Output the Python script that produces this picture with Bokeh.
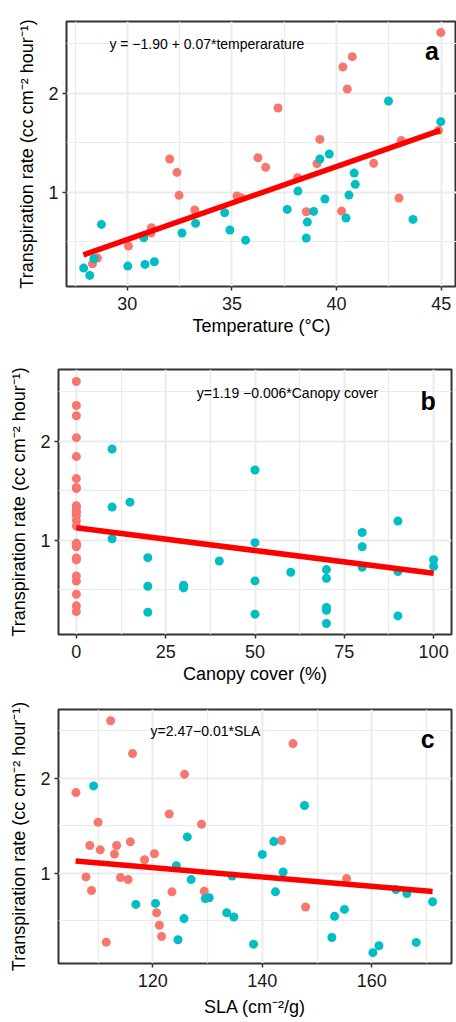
from bokeh.plotting import figure
from bokeh.layouts import column
from bokeh.models import Range1d, FixedTicker, Label
from bokeh.embed import file_html
from bokeh.resources import INLINE

SALMON = "#F8766D"
TEAL = "#00BFC4"
FONT = "Liberation Sans"

# ---------------- data ----------------
# Panel a: temperature (°C) vs transpiration rate
a_open_x = [28.33, 28.57, 30.05, 31.15, 31.13, 32.02, 32.37, 32.47, 33.22, 35.24, 35.43,
            36.24, 36.61, 37.20, 38.14, 38.55, 39.06, 39.20, 40.24, 40.30, 40.51, 40.75,
            41.77, 42.98, 43.09, 44.87, 44.98]
a_open_y = [0.279, 0.337, 0.458, 0.643, 0.590, 1.337, 1.202, 0.970, 0.822, 0.963, 0.946,
            1.350, 1.253, 1.852, 1.148, 0.805, 1.290, 1.535, 0.811, 2.266, 2.044, 2.370,
            1.293, 0.943, 1.525, 1.626, 2.613]
a_shade_x = [27.91, 28.20, 28.76, 28.40, 30.02, 30.78, 30.84, 31.29, 32.61, 33.26, 34.65,
             34.90, 35.65, 37.64, 38.15, 38.55, 38.60, 38.90, 39.20, 39.65, 39.44, 40.45,
             40.59, 40.84, 40.89, 42.48, 43.65, 44.98]
a_shade_y = [0.236, 0.162, 0.677, 0.330, 0.256, 0.542, 0.273, 0.300, 0.590, 0.687, 0.795,
             0.620, 0.518, 0.828, 1.013, 0.539, 0.700, 0.808, 1.337, 1.387, 0.933, 0.741,
             0.973, 1.195, 1.081, 1.923, 0.727, 1.714]
a_fit_x = [27.9, 44.95]
a_fit_y = [0.37, 1.626]

# Panel b: canopy cover (%) vs transpiration rate
b_open_x = [0] * 27
b_open_y = [2.604, 2.362, 2.258, 2.037, 1.846, 1.624, 1.535, 1.523, 1.350, 1.337, 1.293,
            1.290, 1.253, 1.202, 1.144, 0.970, 0.960, 0.946, 0.936, 0.822, 0.811, 0.805,
            0.640, 0.590, 0.456, 0.339, 0.282]
b_shade_x = [10, 10, 10, 15, 20, 20, 20, 30, 30, 40, 50, 50, 50, 50, 60, 70, 70, 70, 70, 70,
             80, 80, 80, 90, 90, 90, 100, 100]
b_shade_y = [1.923, 1.336, 1.017, 1.386, 0.826, 0.537, 0.275, 0.547, 0.520, 0.792, 1.711,
             0.977, 0.591, 0.255, 0.678, 0.705, 0.617, 0.322, 0.295, 0.161, 1.080, 0.936,
             0.728, 1.195, 0.685, 0.238, 0.805, 0.738]
b_fit_x = [0, 100]
b_fit_y = [1.128, 0.668]

# Panel c: SLA vs transpiration rate
c_open_x = [105.96, 108.5, 107.8, 108.8, 110.0, 110.4, 111.5, 112.3, 113.0, 113.4, 114.1,
            115.5, 115.9, 116.3, 118.5, 120.3, 120.7, 121.2, 121.6, 123.0, 123.5, 125.8,
            128.9, 129.4, 143.5, 145.6, 147.9, 155.4]
c_open_y = [1.850, 1.293, 0.962, 0.819, 1.537, 1.247, 0.275, 2.606, 1.202, 1.293, 0.955,
            0.934, 1.331, 2.261, 1.143, 1.206, 0.585, 0.453, 0.334, 1.624, 0.805, 2.042,
            1.516, 0.812, 1.345, 2.366, 0.645, 0.944]
c_shade_x = [109.2, 116.9, 120.5, 124.3, 124.6, 125.7, 126.3, 127.0, 129.6, 130.3, 133.5,
             134.5, 134.8, 138.4, 140.0, 142.1, 142.4, 143.8, 147.7, 152.7, 153.2, 155.0,
             160.2, 161.3, 164.4, 166.4, 168.1, 171.1]
c_shade_y = [1.920, 0.672, 0.683, 1.080, 0.300, 0.523, 1.383, 0.934, 0.735, 0.742, 0.585,
             0.972, 0.540, 0.254, 1.199, 1.334, 0.805, 1.014, 1.714, 0.324, 0.547, 0.620,
             0.164, 0.237, 0.829, 0.787, 0.272, 0.700]
c_fit_x = [105.9, 171.1]
c_fit_y = [1.129, 0.808]

y_ticks = [1, 2]
y_minor = [0.5, 1.5, 2.5]
y_label = "Transpiration rate (cc cm⁻² hour⁻¹)"


def panel(ox, oy, sx, sy, fx, fy, xr, xt, xm, xlabel, eq, eq_xy, tag, tag_xy,
          height, top, bottom, left, right, ylab_standoff, xlab_standoff):
    p = figure(width=456, height=height, output_backend="svg", toolbar_location=None,
               x_range=Range1d(*xr), y_range=Range1d(0.05, 2.725),
               min_border_left=left, min_border_right=right,
               min_border_top=top, min_border_bottom=bottom)
    p.frame_align = False
    p.background_fill_color = "white"
    p.border_fill_color = "white"
    p.outline_line_color = "#333333"
    p.outline_line_width = 2
    p.outline_line_alpha = 1

    p.xaxis.ticker = FixedTicker(ticks=xt, minor_ticks=xm)
    p.yaxis.ticker = FixedTicker(ticks=y_ticks, minor_ticks=y_minor)
    for g in (p.xgrid, p.ygrid):
        g.grid_line_color = "#EBEBEB"
        g.grid_line_width = 2
        g.minor_grid_line_color = "#EBEBEB"
        g.minor_grid_line_width = 1.2
    for ax in (p.xaxis, p.yaxis):
        ax.axis_line_color = None
        ax.minor_tick_line_color = None
        ax.major_tick_out = 4
        ax.major_tick_in = 0
        ax.major_tick_line_color = "#333333"
        ax.major_tick_line_width = 1.5
        ax.major_label_text_font = FONT
        ax.major_label_text_font_size = "18px"
        ax.major_label_text_color = "#1A1A1A"
        ax.axis_label_text_font = FONT
        ax.axis_label_text_font_size = "18px"
        ax.axis_label_text_font_style = "normal"
        ax.axis_label_text_color = "black"
    p.xaxis.major_label_standoff = 6
    p.yaxis.major_label_standoff = 4
    p.xaxis.axis_label = xlabel
    p.xaxis.axis_label_standoff = xlab_standoff
    p.yaxis.axis_label = y_label
    p.yaxis.axis_label_standoff = ylab_standoff

    p.scatter(ox, oy, size=9, color=SALMON, line_color=None)
    p.scatter(sx, sy, size=9, color=TEAL, line_color=None)
    p.line(fx, fy, line_color="#FF0000", line_width=5.5)

    p.add_layout(Label(x=eq_xy[0], y=eq_xy[1], text=eq, text_font=FONT,
                       text_font_size="14px", text_color="black",
                       text_baseline="middle", text_align="left"))
    p.add_layout(Label(x=tag_xy[0], y=tag_xy[1], text=tag, text_font=FONT,
                       text_font_size="25px", text_font_style="bold",
                       text_color="black", text_baseline="alphabetic",
                       text_align="center"))
    return p


pa = panel(a_open_x, a_open_y, a_shade_x, a_shade_y, a_fit_x, a_fit_y,
           (27.09, 45.73), [30, 35, 40, 45], [27.5, 32.5, 37.5, 42.5],
           "Temperature (°C)", "y = −1.90 + 0.07*temperarature", (29.14, 2.495),
           "a", (44.56, 2.424), 346, 21, 60, 66, 0, 8, 3)
pb = panel(b_open_x, b_open_y, b_shade_x, b_shade_y, b_fit_x, b_fit_y,
           (-5.0, 105.0), [0, 25, 50, 75, 100], [12.5, 37.5, 62.5, 87.5],
           "Canopy cover (%)", "y=1.19 −0.006*Canopy cover", (33.7, 2.49),
           "b", (98.46, 2.41), 346, 23, 58, 58, 5, 8, 3)
pc = panel(c_open_x, c_open_y, c_shade_x, c_shade_y, c_fit_x, c_fit_y,
           (102.78, 174.55), [120, 140, 160], [110, 130, 150, 170],
           "SLA (cm⁻²/g)", "y=2.47−0.01*SLA", (119.6, 2.495),
           "c", (170.2, 2.415), 330, 17, 59, 58, 5, 8, 7)

layout = column(pa, pb, pc, spacing=0)
open("out.html", "w").write(file_html(layout, INLINE))
